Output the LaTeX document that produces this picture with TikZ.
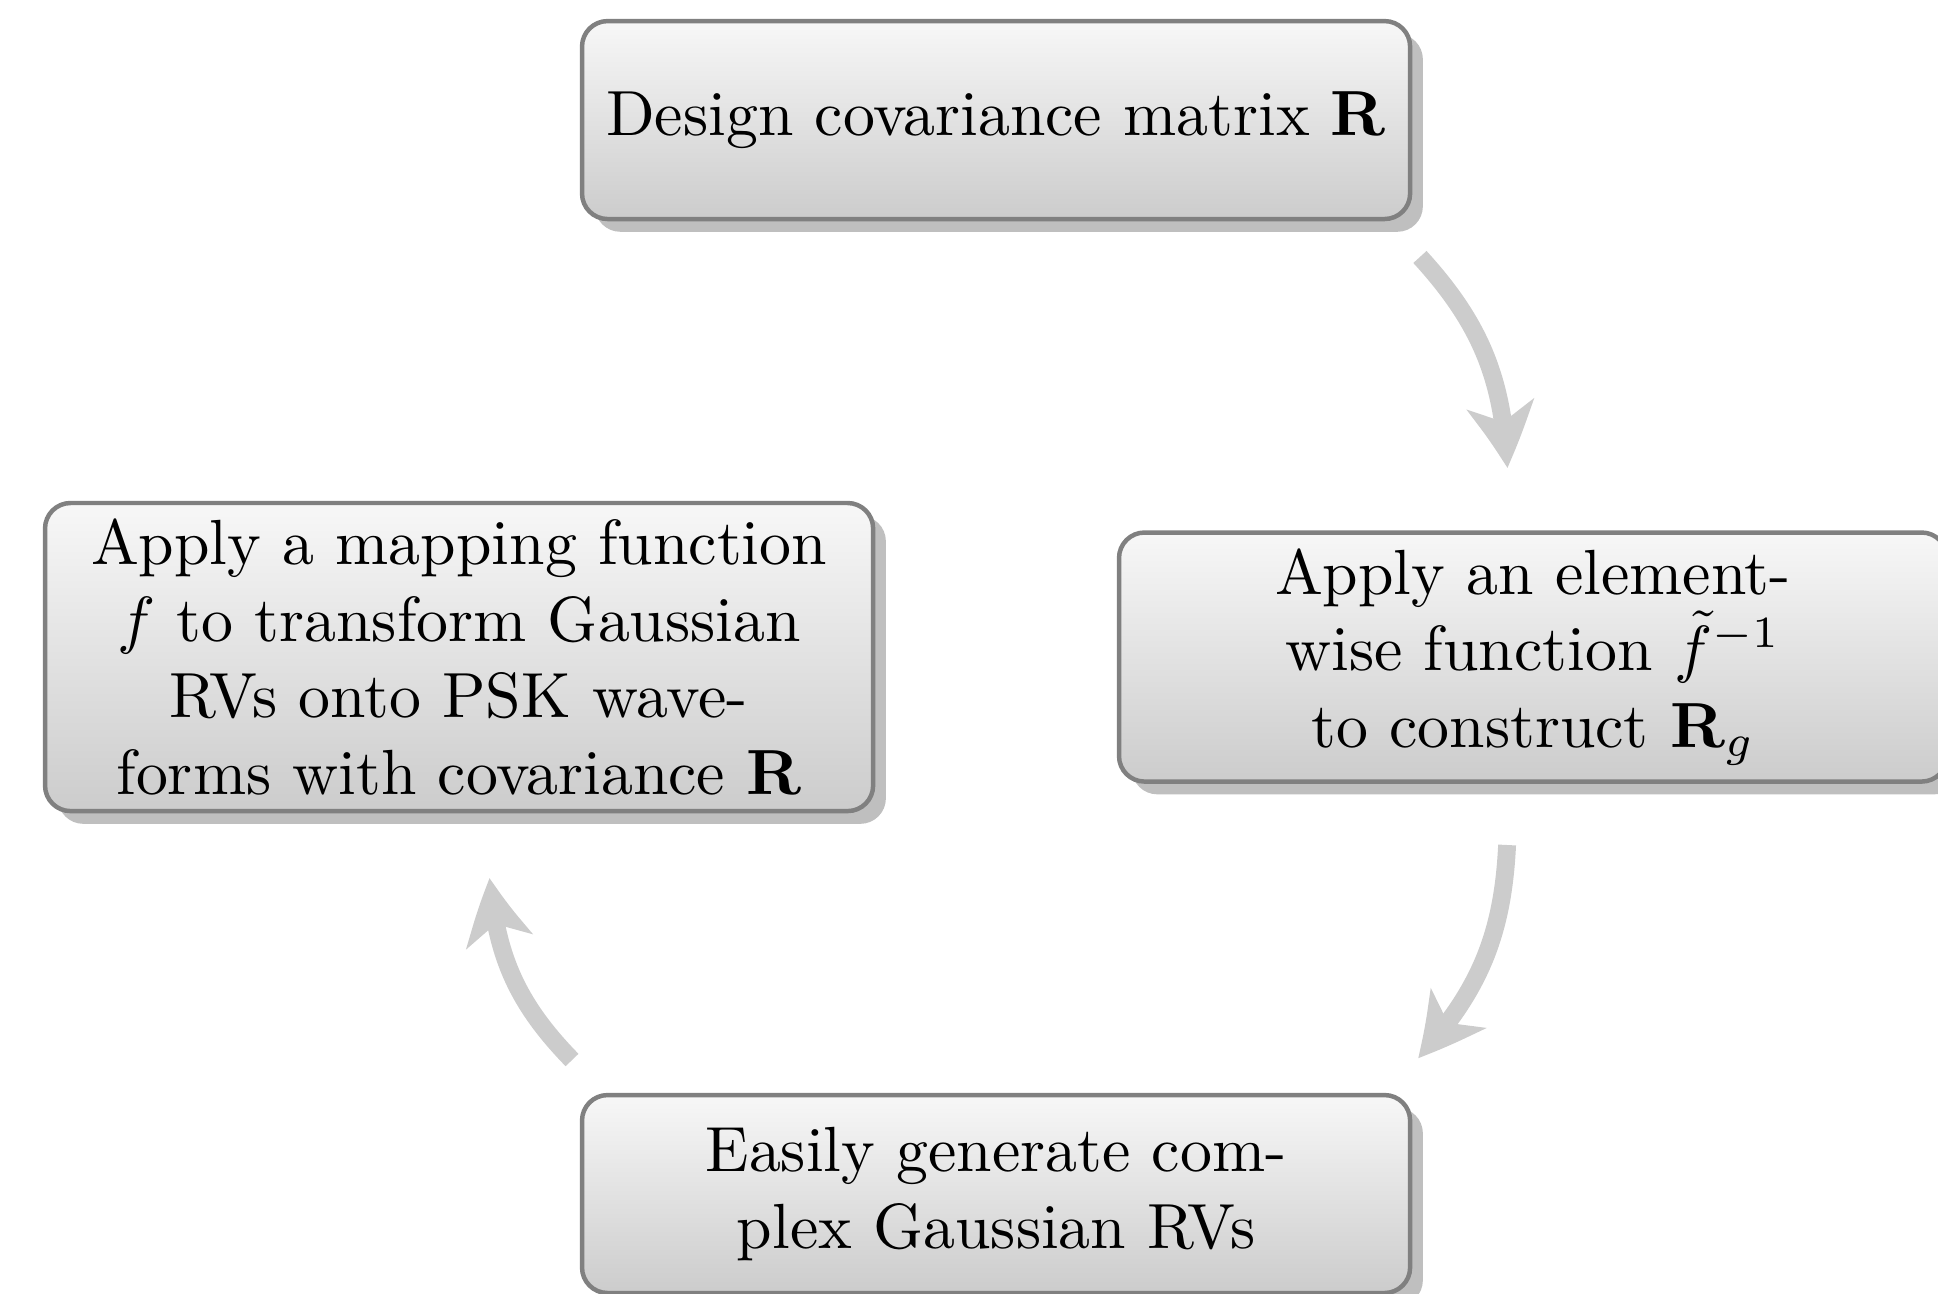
\documentclass[tikz,border=0pt]{standalone}
\usepackage{amsmath}
\usepackage{amssymb}
\usetikzlibrary{shapes,shadows,arrows.meta,bending}

\begin{document}
\begin{tikzpicture}[
    stagebox/.style={draw=black!50, line width=0.7pt, rounded corners=4pt,
        top color=black!3, bottom color=black!20,
        drop shadow={shadow xshift=2pt, shadow yshift=-2pt, fill=black!25, opacity=1},
        align=center, minimum width=4.56cm, minimum height=1.09cm, inner sep=2.5pt},
    cyclearrow/.style={draw=black!20, line width=2.8pt,
        -{Stealth[length=10pt, width=10.5pt, inset=2.8pt, bend]}}]
    \useasboundingbox (0,0) rectangle (10.672,-7.120);

    % Boxes
    \node[stagebox] (design) at (5.485,-0.661) {Design covariance matrix $\mathbf{R}$};
    \node[stagebox] (inverse) at (8.442,-3.618) {Apply an element-\\wise function $\tilde{f}^{-1}$\\to construct $\mathbf{R}_g$};
    \node[stagebox] (generate) at (5.485,-6.575) {Easily generate com-\\plex Gaussian RVs};
    \node[stagebox] (mapping) at (2.528,-3.618) {Apply a mapping function\\$f$ to transform Gaussian\\RVs onto PSK wave-\\forms with covariance $\mathbf{R}$};

    % Arrow ends
    \coordinate (a1s) at (7.819,-1.415);
    \coordinate (a1e) at (8.299,-2.577);
    \coordinate (a2s) at (8.299,-4.653);
    \coordinate (a2e) at (7.808,-5.826);
    \coordinate (a3s) at (3.150,-5.837);
    \coordinate (a3e) at (2.698,-4.835);

    % Arrows
    \draw[cyclearrow] (a1s) to[bend left=20] (a1e);
    \draw[cyclearrow] (a2s) to[bend left=20] (a2e);
    \draw[cyclearrow] (a3s) to[bend left=20] (a3e);
\end{tikzpicture}
\end{document}
